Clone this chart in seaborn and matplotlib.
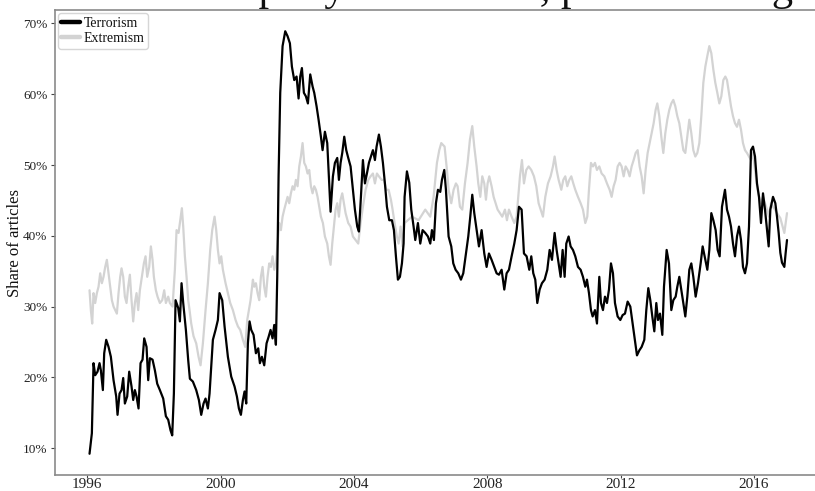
import matplotlib
matplotlib.use("Agg")
import matplotlib.pyplot as plt
from matplotlib.lines import Line2D
from matplotlib.ticker import FixedLocator, FuncFormatter
import pandas as pd
import seaborn as sns

# Share of articles mentioning each term (percent), sampled along the timeline
terror_year = [
    1996.07, 1996.14, 1996.19, 1996.24, 1996.31, 1996.37, 1996.41, 1996.47, 1996.51, 1996.57, 1996.64, 1996.71, 1996.79, 1996.87, 1996.91, 1996.97,
    1997.03, 1997.08, 1997.13, 1997.20, 1997.26, 1997.33, 1997.38, 1997.43, 1997.48, 1997.54, 1997.60, 1997.66, 1997.71, 1997.78, 1997.83, 1997.88, 1997.96,
    1998.03, 1998.10, 1998.18, 1998.28, 1998.36, 1998.43, 1998.50, 1998.55, 1998.60, 1998.65, 1998.73, 1998.78, 1998.83, 1998.88, 1998.96,
    1999.03, 1999.08, 1999.17, 1999.27, 1999.35, 1999.42, 1999.49, 1999.55, 1999.62, 1999.67, 1999.72, 1999.77, 1999.85, 1999.92, 1999.97,
    2000.05, 2000.12, 2000.22, 2000.32, 2000.42, 2000.49, 2000.55, 2000.61, 2000.67, 2000.72, 2000.77, 2000.82, 2000.87, 2000.92, 2000.99,
    2001.06, 2001.13, 2001.18, 2001.24, 2001.31, 2001.38, 2001.44, 2001.50, 2001.56, 2001.61, 2001.66, 2001.70, 2001.74, 2001.79, 2001.86, 2001.94,
    2002.01, 2002.08, 2002.14, 2002.21, 2002.28, 2002.34, 2002.39, 2002.44, 2002.50, 2002.56, 2002.62, 2002.69, 2002.76, 2002.81, 2002.88, 2002.94,
    2003.01, 2003.06, 2003.13, 2003.20, 2003.25, 2003.30, 2003.37, 2003.43, 2003.50, 2003.55, 2003.60, 2003.65, 2003.71, 2003.77, 2003.83, 2003.90, 2003.97,
    2004.03, 2004.10, 2004.15, 2004.21, 2004.27, 2004.33, 2004.39, 2004.45, 2004.51, 2004.57, 2004.63, 2004.68, 2004.75, 2004.81, 2004.87, 2004.93, 2004.99,
    2005.06, 2005.14, 2005.20, 2005.26, 2005.32, 2005.38, 2005.44, 2005.49, 2005.52, 2005.59, 2005.66, 2005.72, 2005.79, 2005.84, 2005.92, 2005.99,
    2006.06, 2006.14, 2006.22, 2006.29, 2006.34, 2006.40, 2006.46, 2006.52, 2006.59, 2006.64, 2006.71, 2006.76, 2006.84, 2006.92, 2006.98,
    2007.05, 2007.13, 2007.21, 2007.28, 2007.36, 2007.43, 2007.49, 2007.55, 2007.61, 2007.68, 2007.75, 2007.83, 2007.91, 2007.98,
    2008.05, 2008.13, 2008.21, 2008.28, 2008.35, 2008.43, 2008.51, 2008.58, 2008.65, 2008.73, 2008.81, 2008.88, 2008.95,
    2009.03, 2009.10, 2009.18, 2009.26, 2009.32, 2009.38, 2009.44, 2009.50, 2009.57, 2009.64, 2009.72, 2009.80, 2009.87, 2009.94,
    2010.02, 2010.08, 2010.14, 2010.20, 2010.26, 2010.32, 2010.37, 2010.44, 2010.50, 2010.57, 2010.64, 2010.72, 2010.80, 2010.87, 2010.94, 2010.99,
    2011.05, 2011.11, 2011.16, 2011.23, 2011.29, 2011.36, 2011.41, 2011.47, 2011.53, 2011.59, 2011.65, 2011.71, 2011.77, 2011.83, 2011.91, 2011.99,
    2012.06, 2012.13, 2012.21, 2012.29, 2012.36, 2012.43, 2012.49, 2012.56, 2012.63, 2012.71, 2012.77, 2012.83, 2012.89, 2012.95,
    2013.01, 2013.07, 2013.12, 2013.18, 2013.25, 2013.30, 2013.38, 2013.45, 2013.52, 2013.58, 2013.65, 2013.70, 2013.76, 2013.82, 2013.88, 2013.94,
    2014.00, 2014.06, 2014.12, 2014.18, 2014.25, 2014.32, 2014.40, 2014.46, 2014.52, 2014.60, 2014.66, 2014.72, 2014.78, 2014.85, 2014.91, 2014.97,
    2015.04, 2015.13, 2015.19, 2015.25, 2015.31, 2015.37, 2015.43, 2015.49, 2015.55, 2015.61, 2015.67, 2015.73, 2015.79, 2015.85, 2015.91, 2015.97,
    2016.03, 2016.09, 2016.15, 2016.21, 2016.27, 2016.33, 2016.39, 2016.44, 2016.49, 2016.57, 2016.64, 2016.69, 2016.74, 2016.79, 2016.84, 2016.91, 2016.95, 2016.99,
]
terror_pct = [
    9.2, 12.1, 22.0, 20.3, 20.8, 22.0, 21.0, 18.2, 23.4, 25.3, 24.3, 22.9, 19.6, 17.3, 14.7, 17.7,
    18.2, 19.9, 16.3, 17.3, 20.8, 18.7, 16.8, 18.2, 17.3, 15.6, 22.0, 22.5, 25.5, 24.3, 19.6, 22.7, 22.5,
    21.0, 19.1, 18.2, 17.0, 14.5, 14.0, 12.5, 11.8, 17.7, 30.9, 29.8, 27.9, 33.3, 30.5, 26.7,
    22.4, 19.8, 19.4, 18.2, 16.8, 14.7, 16.3, 17.0, 15.6, 17.7, 21.5, 25.3, 26.7, 28.1, 31.9,
    30.9, 27.2, 22.9, 20.1, 18.7, 17.3, 15.6, 14.7, 16.8, 18.0, 16.3, 24.8, 27.9, 26.7, 26.0,
    23.4, 24.1, 22.0, 22.9, 21.7, 24.8, 25.7, 26.7, 25.5, 27.4, 24.6, 34.2, 48.4, 60.2, 66.8, 68.9,
    68.2, 67.2, 63.9, 62.0, 62.5, 59.4, 62.5, 63.7, 60.2, 59.7, 58.7, 62.8, 61.1, 60.2, 58.3, 56.4,
    54.0, 52.1, 54.7, 53.1, 48.4, 43.4, 48.4, 50.3, 51.0, 47.9, 50.3, 51.7, 54.0, 52.1, 51.0, 49.8, 46.5,
    43.7, 41.3, 40.6, 45.5, 50.7, 47.4, 48.8, 50.3, 51.2, 52.1, 50.7, 52.6, 54.3, 52.6, 50.3, 47.4, 44.1,
    42.2, 42.2, 40.8, 37.1, 33.8, 34.2, 36.1, 38.9, 45.5, 49.1, 47.5, 43.7, 41.3, 39.4, 41.8, 38.9,
    40.8, 40.4, 39.9, 38.9, 40.8, 39.4, 44.6, 46.5, 46.2, 47.9, 49.3, 46.5, 39.9, 38.5, 36.1,
    35.2, 34.7, 33.8, 34.7, 37.5, 39.9, 42.7, 45.8, 43.2, 40.8, 38.5, 40.8, 37.5, 35.6,
    37.5, 36.6, 35.6, 34.7, 34.5, 35.2, 32.4, 34.7, 35.2, 37.1, 38.9, 40.8, 44.1,
    43.7, 37.5, 37.1, 35.2, 37.1, 34.7, 33.8, 30.5, 32.4, 33.3, 33.8, 35.2, 38.0, 36.6,
    40.4, 38.0, 36.1, 34.2, 38.0, 34.2, 38.9, 39.9, 38.5, 38.0, 37.1, 35.6, 35.2, 34.2, 32.8, 33.8,
    31.9, 29.5, 28.6, 29.5, 27.6, 34.2, 30.5, 29.5, 31.4, 30.5, 32.4, 36.1, 34.7, 30.5, 28.6, 28.1,
    28.8, 29.0, 30.7, 30.0, 27.6, 25.3, 23.1, 23.8, 24.3, 25.3, 29.5, 32.6, 30.9, 28.6,
    26.5, 30.5, 28.1, 29.0, 26.0, 32.8, 38.0, 36.1, 29.5, 30.9, 31.4, 32.8, 34.2, 32.4, 30.5, 28.6,
    31.4, 35.2, 36.1, 34.2, 31.4, 33.3, 36.1, 38.5, 37.1, 35.2, 38.0, 43.2, 42.2, 40.8, 38.0, 37.1,
    44.1, 46.5, 43.7, 42.7, 41.3, 38.9, 37.1, 39.9, 41.3, 39.4, 35.6, 34.7, 36.1, 41.3, 52.1, 52.6,
    51.2, 47.4, 45.5, 41.8, 46.0, 43.7, 40.8, 38.5, 43.7, 45.5, 44.6, 42.7, 40.4, 37.6, 36.2, 35.6, 37.6, 39.4,
]

extrem_year = [
    1996.07, 1996.11, 1996.15, 1996.19, 1996.24, 1996.29, 1996.34, 1996.39, 1996.44, 1996.49, 1996.54, 1996.59, 1996.64, 1996.69, 1996.74, 1996.79, 1996.84, 1996.89, 1996.94, 1996.99,
    1997.03, 1997.08, 1997.13, 1997.18, 1997.23, 1997.28, 1997.33, 1997.38, 1997.43, 1997.48, 1997.53, 1997.58, 1997.64, 1997.70, 1997.75, 1997.80, 1997.86, 1997.91, 1997.96,
    1998.00, 1998.06, 1998.11, 1998.18, 1998.25, 1998.31, 1998.36, 1998.43, 1998.48, 1998.56, 1998.63, 1998.68, 1998.74, 1998.78, 1998.84, 1998.88, 1998.93, 1998.98,
    1999.03, 1999.07, 1999.12, 1999.19, 1999.27, 1999.34, 1999.40, 1999.47, 1999.55, 1999.62, 1999.69, 1999.75, 1999.82, 1999.87, 1999.92, 1999.97,
    2000.02, 2000.07, 2000.15, 2000.22, 2000.29, 2000.37, 2000.45, 2000.52, 2000.59, 2000.67, 2000.74, 2000.80, 2000.85, 2000.90, 2000.97,
    2001.01, 2001.06, 2001.11, 2001.16, 2001.21, 2001.26, 2001.31, 2001.36, 2001.41, 2001.46, 2001.51, 2001.56, 2001.61, 2001.66, 2001.71, 2001.76, 2001.81, 2001.86, 2001.91, 2001.96,
    2002.01, 2002.06, 2002.11, 2002.16, 2002.21, 2002.26, 2002.31, 2002.36, 2002.41, 2002.46, 2002.51, 2002.56, 2002.61, 2002.66, 2002.71, 2002.76, 2002.81, 2002.86, 2002.91, 2002.96,
    2003.01, 2003.07, 2003.13, 2003.20, 2003.25, 2003.30, 2003.35, 2003.40, 2003.45, 2003.50, 2003.55, 2003.60, 2003.65, 2003.70, 2003.75, 2003.83, 2003.90, 2003.97,
    2004.05, 2004.13, 2004.20, 2004.27, 2004.35, 2004.43, 2004.50, 2004.57, 2004.63, 2004.69, 2004.75, 2004.83, 2004.90, 2004.97,
    2005.04, 2005.11, 2005.16, 2005.22, 2005.29, 2005.34, 2005.40, 2005.46, 2005.52, 2005.74, 2005.94,
    2006.14, 2006.29, 2006.39, 2006.49, 2006.56, 2006.62, 2006.72, 2006.79, 2006.84, 2006.92, 2006.99,
    2007.06, 2007.11, 2007.18, 2007.25, 2007.33, 2007.41, 2007.48, 2007.55, 2007.61, 2007.68, 2007.73, 2007.79, 2007.85, 2007.91, 2007.96,
    2008.01, 2008.06, 2008.13, 2008.19, 2008.25, 2008.31, 2008.38, 2008.45, 2008.53, 2008.59, 2008.65, 2008.73, 2008.81, 2008.88, 2008.93, 2008.98,
    2009.04, 2009.10, 2009.17, 2009.24, 2009.32, 2009.40, 2009.47, 2009.54, 2009.60, 2009.67, 2009.74, 2009.82, 2009.90, 2009.97,
    2010.02, 2010.08, 2010.14, 2010.22, 2010.28, 2010.34, 2010.40, 2010.46, 2010.52, 2010.58, 2010.64, 2010.72, 2010.80, 2010.87, 2010.94,
    2011.00, 2011.05, 2011.11, 2011.17, 2011.23, 2011.29, 2011.36, 2011.43, 2011.51, 2011.59, 2011.67, 2011.73, 2011.79, 2011.85, 2011.91, 2011.97,
    2012.03, 2012.09, 2012.15, 2012.21, 2012.27, 2012.33, 2012.39, 2012.45, 2012.51, 2012.57, 2012.63, 2012.69, 2012.75, 2012.81, 2012.87, 2012.93, 2012.99,
    2013.05, 2013.10, 2013.16, 2013.22, 2013.28, 2013.34, 2013.40, 2013.46, 2013.52, 2013.58, 2013.64, 2013.70, 2013.76, 2013.82, 2013.88, 2013.94,
    2014.00, 2014.06, 2014.12, 2014.18, 2014.24, 2014.30, 2014.36, 2014.42, 2014.48, 2014.54, 2014.60, 2014.66, 2014.72, 2014.78, 2014.84, 2014.90, 2014.96,
    2015.02, 2015.08, 2015.14, 2015.19, 2015.25, 2015.31, 2015.37, 2015.43, 2015.49, 2015.55, 2015.61, 2015.67, 2015.73, 2015.79, 2015.85, 2015.91, 2015.97,
    2016.03, 2016.09, 2016.15, 2016.21, 2016.27, 2016.33, 2016.39, 2016.45, 2016.51, 2016.57, 2016.63, 2016.69, 2016.79, 2016.91, 2016.99,
]
extrem_pct = [
    32.3, 29.5, 27.6, 31.9, 30.5, 31.9, 32.8, 34.7, 33.3, 34.2, 35.6, 36.6, 34.7, 32.8, 30.9, 30.0, 29.5, 29.0, 31.9, 34.2,
    35.4, 34.2, 31.4, 30.5, 32.8, 34.5, 30.9, 27.9, 30.5, 31.9, 29.5, 32.3, 34.2, 36.1, 37.1, 34.2, 35.6, 38.5, 36.6,
    34.2, 32.3, 31.4, 30.5, 30.9, 32.3, 30.5, 31.4, 30.5, 30.0, 35.2, 40.8, 40.4, 41.8, 43.9, 41.3, 37.1, 34.2,
    30.9, 29.5, 27.6, 25.8, 24.8, 22.9, 21.7, 24.8, 29.5, 33.3, 38.0, 40.8, 42.7, 40.8, 38.0, 36.1,
    37.1, 35.2, 33.3, 31.9, 30.5, 29.5, 28.1, 27.2, 26.7, 25.3, 24.3, 28.1, 29.5, 30.9, 33.8,
    32.8, 33.3, 31.9, 30.9, 34.2, 35.6, 32.8, 31.4, 34.2, 36.1, 35.6, 37.1, 35.2, 36.1, 38.9, 41.8, 40.8, 42.7, 43.7, 44.6,
    45.5, 44.6, 46.0, 47.0, 46.5, 47.9, 47.0, 49.8, 51.2, 53.1, 50.3, 49.8, 48.8, 49.3, 47.0, 46.0, 47.0, 46.5, 45.5, 44.1,
    42.7, 41.8, 39.9, 38.9, 37.1, 35.9, 38.9, 41.3, 43.7, 44.6, 42.7, 45.1, 46.0, 44.6, 43.2, 41.8, 41.3, 39.9,
    39.4, 38.9, 41.8, 44.1, 46.5, 47.9, 48.4, 48.8, 47.4, 48.8, 48.4, 47.9, 47.9, 46.5,
    46.5, 45.1, 43.7, 41.8, 39.9, 38.9, 41.3, 38.5, 41.8, 42.7, 42.2,
    43.7, 42.7, 45.5, 50.3, 52.1, 53.1, 52.6, 49.3, 46.5, 44.6, 46.5,
    47.4, 47.0, 44.1, 43.7, 47.4, 50.3, 53.6, 55.5, 52.6, 49.8, 47.4, 45.5, 48.4, 47.4, 45.1,
    47.4, 48.4, 47.0, 45.5, 44.6, 43.7, 43.2, 42.7, 43.7, 42.2, 43.7, 42.7, 41.8, 42.7, 45.5, 48.4,
    50.7, 47.4, 49.3, 49.8, 49.3, 48.4, 47.0, 44.6, 43.7, 42.7, 45.5, 47.4, 48.4, 49.8,
    51.2, 49.3, 47.9, 46.5, 47.9, 48.4, 47.0, 47.9, 48.4, 47.4, 46.5, 45.5, 44.6, 43.7, 41.8,
    42.7, 46.5, 50.3, 49.8, 50.3, 49.3, 49.8, 48.8, 48.4, 47.4, 46.5, 45.5, 47.0, 47.9, 49.8, 50.3,
    49.8, 48.4, 49.8, 49.3, 48.4, 49.8, 50.7, 51.7, 52.1, 49.8, 48.4, 46.0, 49.3, 51.7, 53.1, 54.5, 55.9,
    57.8, 58.7, 56.9, 54.0, 51.7, 54.5, 56.4, 57.8, 58.7, 59.2, 58.3, 56.9, 55.9, 54.0, 52.1, 51.7,
    54.0, 56.4, 54.5, 52.1, 51.2, 51.7, 53.1, 56.9, 61.6, 63.9, 65.4, 66.8, 65.8, 63.5, 61.6, 60.2, 58.7,
    59.7, 62.0, 62.5, 62.0, 60.2, 58.3, 56.9, 55.9, 55.4, 56.4, 55.0, 53.1, 52.1, 51.7, 51.2, 50.7, 51.7,
    49.3, 47.0, 45.5, 44.6, 45.5, 44.6, 43.7, 42.7, 44.6, 44.1, 43.7, 43.2, 42.5, 40.4, 43.2,
]

series_names = ["Terrorism", "Extremism"]
series_colors = ["#000000", "#d3d3d3"]
year_ticks = [1996, 2000, 2004, 2008, 2012, 2016]
pct_ticks = [10, 20, 30, 40, 50, 60, 70]
title_text = "Mentions in party manifestos, press coverage"

sns.set_style("ticks")
plt.rcParams["font.family"] = ["Liberation Serif", "DejaVu Serif"]

frames = [
    pd.DataFrame({"year": terror_year, "share": terror_pct, "term": series_names[0]}),
    pd.DataFrame({"year": extrem_year, "share": extrem_pct, "term": series_names[1]}),
]
df = pd.concat(frames, ignore_index=True)
palette = dict(zip(series_names, series_colors))

fig = plt.figure(figsize=(8.15, 4.91), dpi=100)
ax = fig.add_axes([0.0669, 0.0326, 0.9417, 0.947])

sns.lineplot(data=df, x="year", y="share", hue="term", hue_order=series_names,
             palette=palette, estimator=None, sort=False, linewidth=1.6,
             legend=False, ax=ax)

# keep the black series above the grey one where they cross
for line in ax.lines:
    if matplotlib.colors.to_hex(line.get_color()) == series_colors[0]:
        line.set_zorder(3)
    else:
        line.set_zorder(2)

ax.set_xlim(1995.02, 2018.04)
ax.set_ylim(6.2, 71.9)
ax.xaxis.set_major_locator(FixedLocator(year_ticks))
ax.xaxis.set_major_formatter(FuncFormatter(lambda v, p: f"{int(round(v))}"))
ax.yaxis.set_major_locator(FixedLocator(pct_ticks))
ax.yaxis.set_major_formatter(FuncFormatter(lambda v, p: f"{int(round(v))}%"))

ax.tick_params(axis="x", labelsize=11, length=2, width=0.8, color="#444444",
               labelcolor="#222222", pad=0.5)
ax.tick_params(axis="y", labelsize=9.5, length=3, width=0.8, color="#444444",
               labelcolor="#222222", pad=2)
ax.set_xlabel("")
ax.set_ylabel("Share of articles", fontsize=12, color="#111111")
ax.yaxis.set_label_coords(-0.041, 0.5)

for side in ["left", "bottom", "top", "right"]:
    ax.spines[side].set_color("#8a8a8a")
    ax.spines[side].set_linewidth(1.2)

handles = [Line2D([], [], color=c, lw=3.2) for c in series_colors]
leg = ax.legend(handles, series_names, loc="upper left", fontsize=10,
                frameon=True, borderaxespad=0.25, borderpad=0.25,
                labelspacing=0.15, handlelength=1.3, handletextpad=0.3,
                fancybox=True, framealpha=1.0, edgecolor="#d6d6d6")
for t in leg.get_texts():
    t.set_color("#111111")

# heading runs off the top edge: place it so the descenders of p/y/g end
# about 9 px below the top of the canvas
fig_h = fig.get_figheight() * fig.dpi
heading = fig.text(44 / 815, 1.0, title_text, fontsize=30.5, ha="left",
                   va="baseline", color="#111111")
fig.canvas.draw()
bb = heading.get_window_extent(renderer=fig.canvas.get_renderer())
target_bottom = fig_h - 9.0
heading.set_y(1.0 + (target_bottom - bb.y0) / fig_h)

fig.savefig("out.png", dpi=100)
